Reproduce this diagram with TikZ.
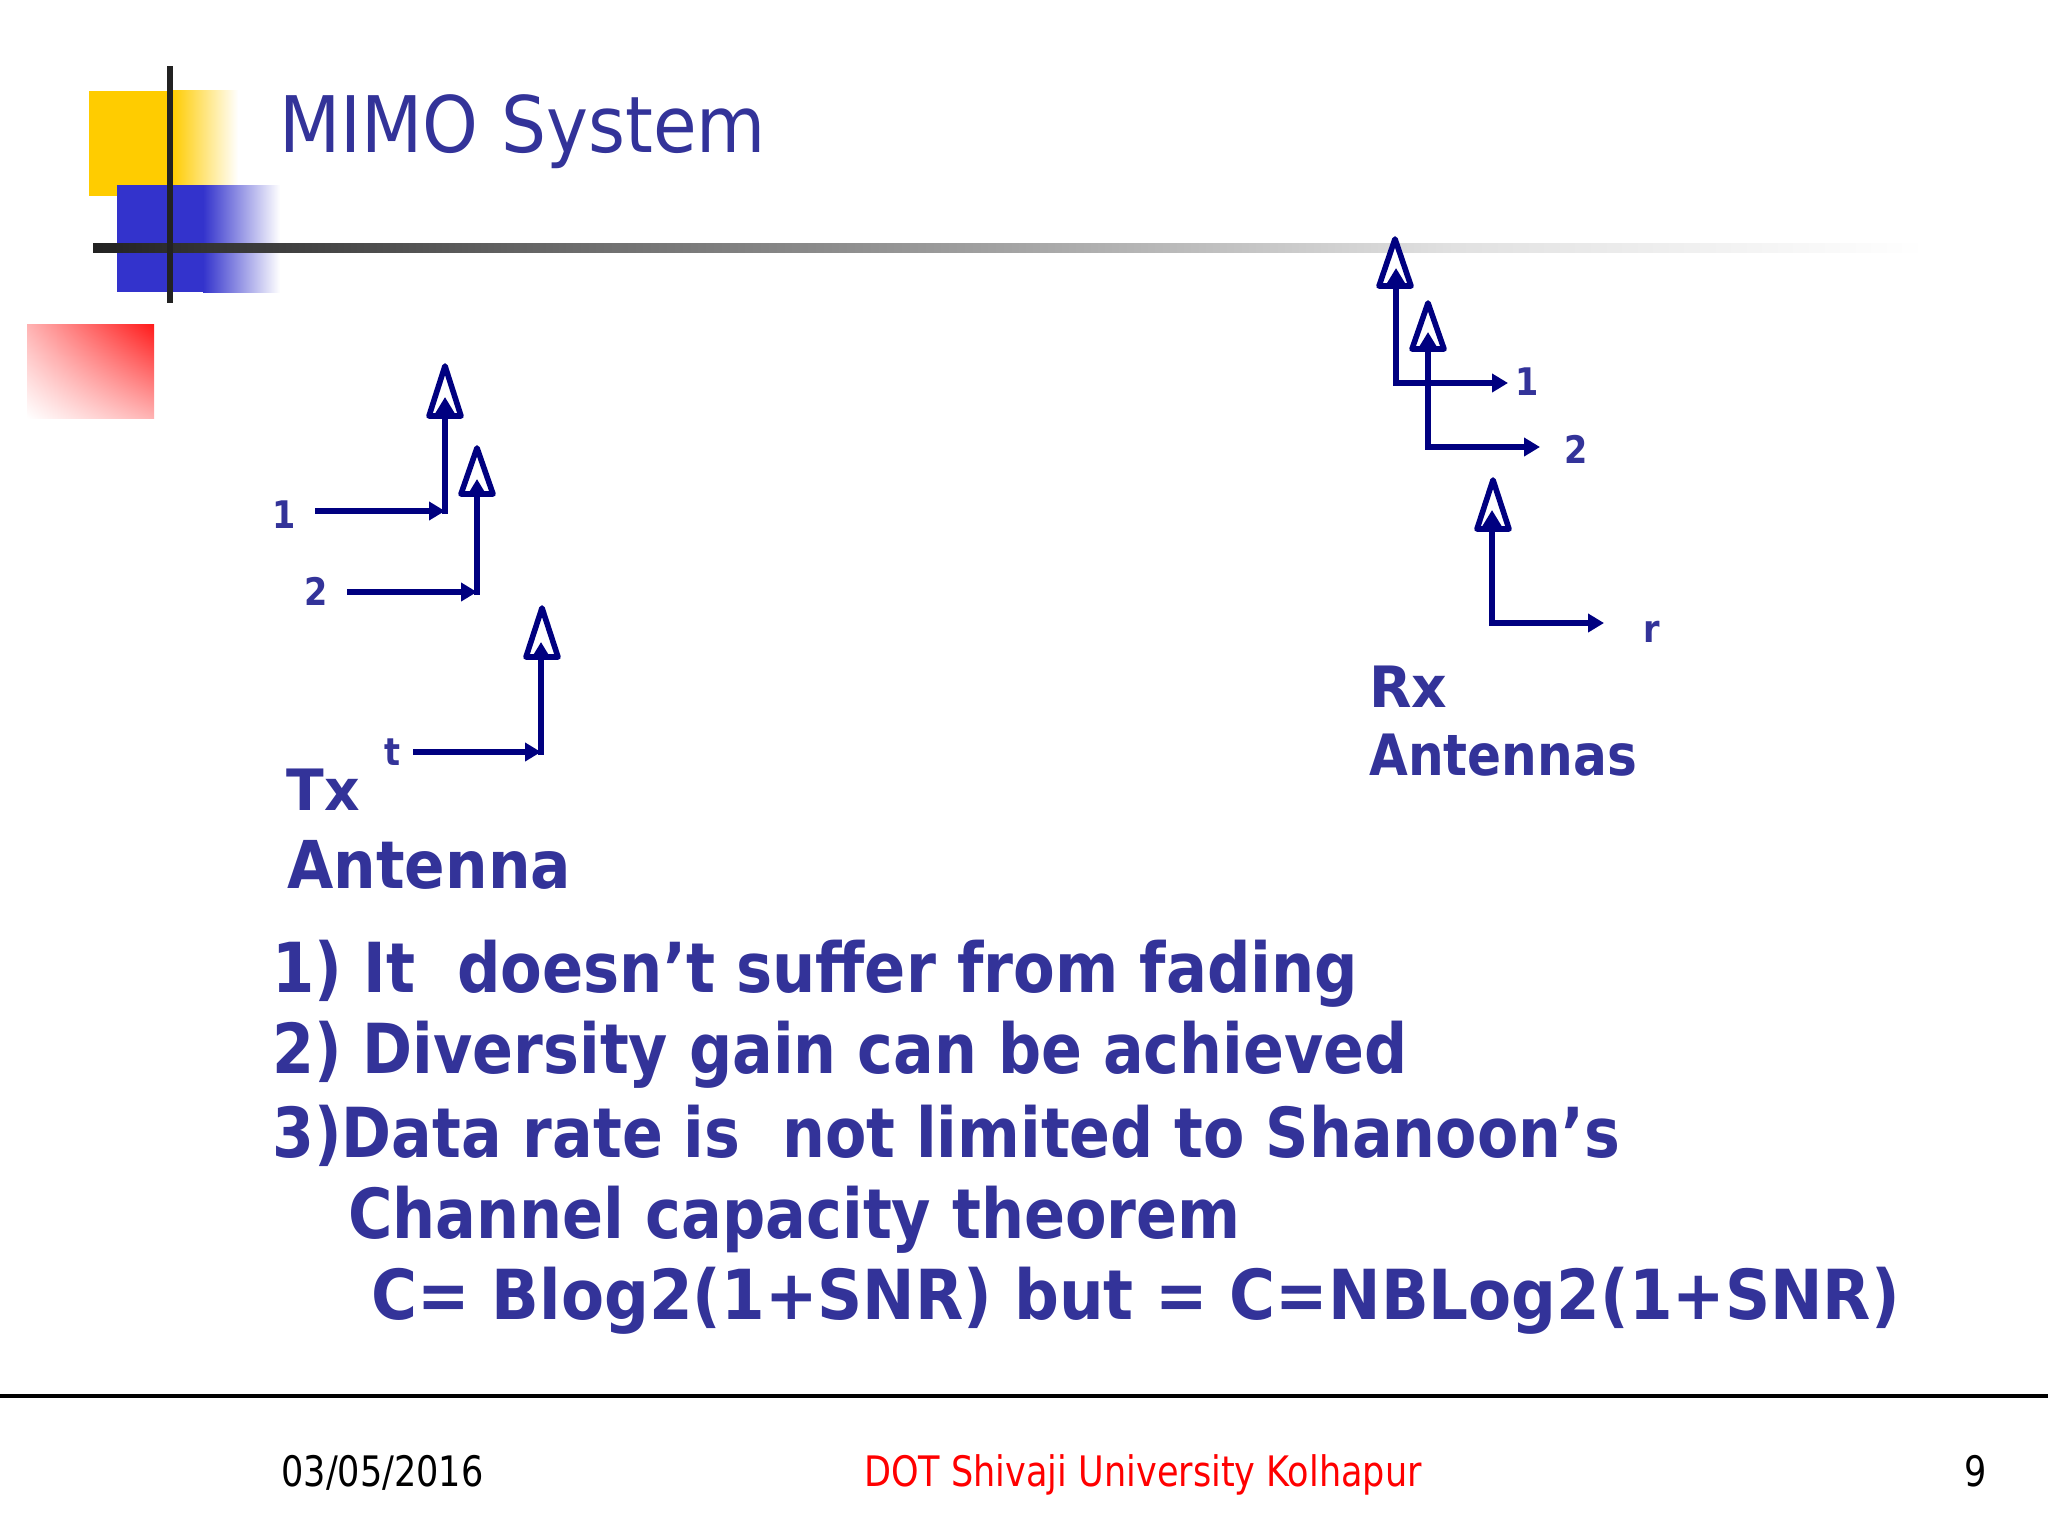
\documentclass[tikz,border=0pt]{standalone}
\usepackage{fontspec}
\usepackage{graphicx}
\setmainfont{DejaVu Sans}[FakeStretch=0.88]
\newfontfamily\titlefont{DejaVu Sans}[FakeStretch=0.91]
\newfontfamily\footfont{DejaVu Sans}[FakeStretch=0.835]
\usetikzlibrary{arrows.meta,shadings}
\definecolor{slidetext}{HTML}{333399}
\definecolor{arrownavy}{HTML}{000080}
\definecolor{decoyellow}{HTML}{FFCC00}
\definecolor{decoblue}{HTML}{3333CC}
\definecolor{barblack}{HTML}{222222}
\pgfdeclarehorizontalshading{fadebar}{100bp}{color(0bp)=(barblack);color(25bp)=(barblack);color(38bp)=(black!58);color(50bp)=(black!36);color(62bp)=(black!12);color(75bp)=(white);color(100bp)=(white)}
\tikzset{
  shaft/.style={draw=arrownavy,line width=2.8pt,-{Triangle[length=8pt,width=9pt]}},
  head/.style={draw=arrownavy,line width=2.8pt,line join=round,fill=white},
  leg/.style={draw=arrownavy,line width=2.8pt,line cap=butt,-{Triangle[length=8pt,width=9pt]}},
  numlabel/.style={font=\fontsize{19}{19}\selectfont\bfseries,text=slidetext,anchor=base,inner sep=0pt},
  biglabel/.style={text=slidetext,anchor=base west,inner sep=0pt},
  bodyline/.style={font=\fontsize{34.5}{34.5}\selectfont\bfseries,text=slidetext,anchor=base west,inner sep=0pt},
  foot/.style={font=\footfont\fontsize{21}{21}\selectfont,anchor=base,inner sep=0pt},
  darkbar/.style={fill=barblack,draw=none}
}
\newcommand{\openhead}[3]{\draw[head] (#1,#2) -- (#1-16,#3) -- (#1+16,#3) -- cycle;}
\begin{document}
\begin{tikzpicture}[x=0.5pt,y=-0.5pt]
\useasboundingbox (0,0) rectangle (2048,1536);
\fill[white] (0,0) rectangle (2048,1536);
% decoration
\shade[upper right=red!90!white,lower left=white,upper left=red!30,lower right=red!30] (27,324) rectangle (154,418);
\fill[decoyellow] (89,91) rectangle (172,196);
\shade[left color=decoyellow,right color=white] (172,91) rectangle (238,185);
\fill[decoblue] (117,185) rectangle (203,292);
\shade[left color=decoblue,right color=white] (203,185) rectangle (280,292);
\shade[shading=fadebar] (93,243) rectangle (1925,252);
\fill[darkbar] (167,66) rectangle (173,303);
% title
\node[biglabel,font=\titlefont\fontsize{39}{39}\selectfont] (title) at (279,152) {MIMO System};
% Tx arrows
\coordinate (txa) at (445,511);
\coordinate (txb) at (477,592);
\coordinate (txc) at (541,752);
\coordinate (txal) at (315,511);
\coordinate (txbl) at (347,592);
\coordinate (txcl) at (413,752);
\openhead{445}{366}{416}
\openhead{477}{448}{494}
\openhead{542}{608}{657}
\draw[leg] (txal) -- (txa);
\draw[leg] (txbl) -- (txb);
\draw[leg] (txcl) -- (txc);
\draw[shaft] (445,514) -- (445,397);
\draw[shaft] (477,595) -- (477,479);
\draw[shaft] (541,755) -- (541,642);
\node[numlabel] (n1) at (284,528) {1};
\node[numlabel] (n2) at (316,605) {2};
\node[numlabel] (nt) at (392,765) {t};
\node[biglabel,font=\fontsize{28.5}{28.5}\selectfont\bfseries] (tx) at (286,810) {\scalebox{1.1}[1]{Tx}};
\node[biglabel,font=\fontsize{33}{33}\selectfont\bfseries] (ant) at (287,888) {\scalebox{1.03}[1]{Antenna}};
% Rx arrows
\coordinate (rxa) at (1396,383);
\coordinate (rxb) at (1428,447);
\coordinate (rxc) at (1492,623);
\openhead{1395}{239}{286}
\openhead{1428}{303}{349}
\openhead{1493}{480}{529}
\draw[shaft] (rxa) -- (1396,268);
\draw[shaft] (rxb) -- (1428,332);
\draw[shaft] (rxc) -- (1492,510);
\node[numlabel] (m1) at (1527,395) {1};
\node[numlabel] (m2) at (1576,463) {2};
\node[numlabel] (mr) at (1652,642) {r};
\coordinate (rxae) at (1508,383);
\coordinate (rxbe) at (1540,447);
\coordinate (rxce) at (1604,623);
\draw[leg] (1393,383) -- (rxae);
\draw[leg] (1425,447) -- (rxbe);
\draw[leg] (1489,623) -- (rxce);
\node[biglabel,font=\fontsize{28.5}{28.5}\selectfont\bfseries] (rx) at (1369,707) {\scalebox{1.1}[1]{Rx}};
\node[biglabel,font=\fontsize{28.5}{28.5}\selectfont\bfseries] (ants) at (1369,775) {Antennas};
% body
\node[bodyline] (l1) at (272,992) {1) It\ \ doesn’t suffer from fading};
\node[bodyline] (l2) at (272,1073) {\scalebox{0.993}[1]{2) Diversity gain can be achieved}};
\node[bodyline] (l3) at (272,1157) {\scalebox{0.992}[1]{3)Data rate is\ \ not limited to Shanoon’s}};
\node[bodyline] (l4) at (348,1238) {\scalebox{0.996}[1]{Channel capacity theorem}};
\node[bodyline] (l5) at (371,1319) {\scalebox{1.033}[1]{C= Blog2(1+SNR) but = C=NBLog2(1+SNR)}};
% footer
\draw[black,line width=1.8pt] (0,1396) -- (2048,1396);
\node[foot,anchor=base west] (date) at (281,1486) {03/05/2016};
\node[foot,text=red] (org) at (1143,1486) {DOT Shivaji University Kolhapur};
\node[foot] (page) at (1976,1486) {9};
\end{tikzpicture}
\end{document}
